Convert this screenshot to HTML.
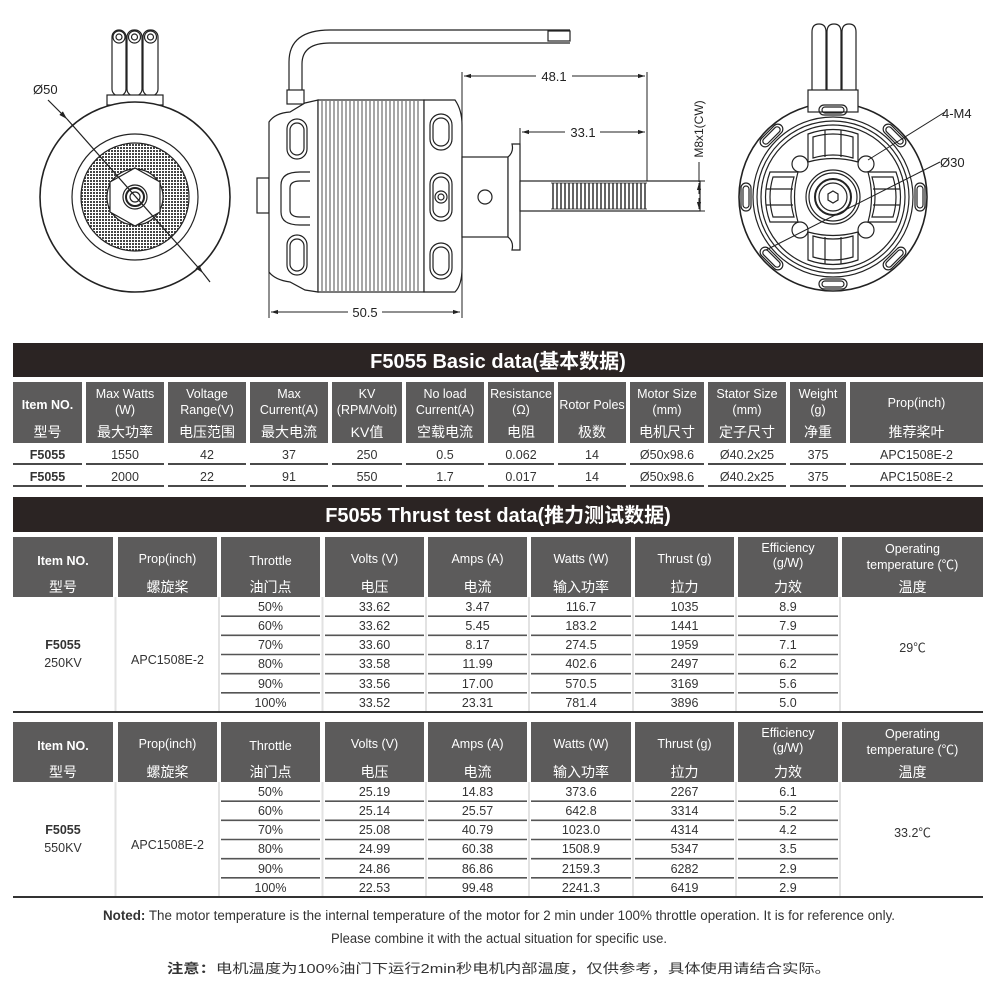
<!DOCTYPE html>
<html><head><meta charset="utf-8"><style>
html,body{margin:0;padding:0;background:#fff}
svg{display:block}
.n{font-family:"Liberation Sans Narrow","Liberation Sans","Noto Sans CJK SC",sans-serif}
.c{font-family:"Liberation Sans","Noto Sans CJK SC",sans-serif}
</style></head><body>
<svg width="1000" height="1000" viewBox="0 0 1000 1000" xmlns="http://www.w3.org/2000/svg">
<defs>
<pattern id="mesh" width="3" height="3" patternUnits="userSpaceOnUse"><rect width="3" height="3" fill="#fff"/><rect width="2" height="2" fill="#444"/></pattern>
<marker id="ar" viewBox="0 0 10 10" refX="10" refY="5" markerWidth="7" markerHeight="7" orient="auto-start-reverse"><path d="M0,2 L10,5 L0,8 z" fill="#222"/></marker>
</defs>
<rect width="1000" height="1000" fill="#fff"/>

<!-- LEFT VIEW -->
<g fill="none" stroke="#222" stroke-width="1.2">
 <rect x="112" y="30" width="14" height="66" rx="7"/><rect x="127" y="30" width="15" height="66" rx="7"/><rect x="143" y="30" width="15" height="66" rx="7"/>
 <circle cx="119" cy="37" r="6"/><circle cx="134.5" cy="37" r="6"/><circle cx="150.5" cy="37" r="6"/>
 <circle cx="119" cy="37" r="3"/><circle cx="134.5" cy="37" r="3"/><circle cx="150.5" cy="37" r="3"/>
 <rect x="107" y="95" width="56" height="10" fill="#fff"/>
 <circle cx="135" cy="197" r="95" stroke-width="1.6" fill="#fff"/>
 <circle cx="135" cy="197" r="63"/>
 <circle cx="135" cy="197" r="54" fill="url(#mesh)" stroke="none"/>
 <circle cx="135" cy="197" r="54"/>
 <circle cx="135" cy="197" r="28" fill="#fff"/>
 <polygon points="135,168 160,182 160,212 135,226 110,212 110,182" fill="#fff"/>
 <circle cx="135" cy="197" r="12"/><circle cx="135" cy="197" r="9" stroke-width="2"/><circle cx="135" cy="197" r="5"/>
 <line x1="48" y1="100" x2="67" y2="119" marker-end="url(#ar)"/>
 <line x1="67" y1="119" x2="203" y2="273" marker-end="url(#ar)"/>
 <line x1="203" y1="273" x2="210" y2="282"/>
</g>
<text x="33" y="94" class="n" font-size="13" fill="#222">Ø50</text>

<!-- MIDDLE VIEW -->
<g fill="none" stroke="#222" stroke-width="1.2">
 <path d="M289,101 L289,62 Q289,30 330,30 L570,30 M302,101 L302,64 Q302,43 330,43 L570,43"/>
 <rect x="548" y="31" width="22" height="10" fill="#fff"/>
 <rect x="287" y="90" width="17" height="14" fill="#fff"/>
 <rect x="257" y="178" width="12" height="35"/>
 <path d="M269,122 Q275,113 290,112 L305,103 L318,100 L318,292 L305,290 L290,282 Q275,280 269,272 Z" fill="#fff"/>
 <rect x="318" y="100" width="106" height="192" fill="#fff"/>
 <path d="M424,100 L455,100 Q462,110 462,125 L462,268 Q462,285 455,292 L424,292 Z" fill="#fff"/>
 <g stroke-width="0.8">
  <path d="M322,101V291M326,101V291M330,101V291M334,101V291M338,101V291M342,101V291M346,101V291M350,101V291M354,101V291M358,101V291M362,101V291M366,101V291M370,101V291M374,101V291M378,101V291M382,101V291M386,101V291M390,101V291M394,101V291M398,101V291M402,101V291M406,101V291M410,101V291M414,101V291M418,101V291"/>
 </g>
 <rect x="287" y="119" width="20" height="40" rx="10"/><rect x="290" y="123" width="14" height="32" rx="7"/>
 <rect x="287" y="235" width="20" height="40" rx="10"/><rect x="290" y="239" width="14" height="32" rx="7"/>
 <path d="M310,172 L300,172 Q281,172 281,185 L281,212 Q281,225 300,225 L310,225 M310,181 L300,181 Q290,181 290,188 L290,210 Q290,217 300,217 L310,217"/>
 <rect x="430" y="114" width="22" height="36" rx="11"/><rect x="433" y="118" width="16" height="28" rx="8"/>
 <rect x="430" y="173" width="22" height="48" rx="11"/><rect x="433" y="177" width="16" height="40" rx="8"/>
 <circle cx="441" cy="197" r="6"/><circle cx="441" cy="197" r="3"/>
 <rect x="430" y="243" width="22" height="36" rx="11"/><rect x="433" y="247" width="16" height="28" rx="8"/>
 <rect x="462" y="157" width="46" height="80" fill="#fff"/>
 <circle cx="485" cy="197" r="7"/>
 <path d="M508,157 Q514,152 512,144 L520,144 L520,250 L512,250 Q514,242 508,237 Z" fill="#fff"/>
 <rect x="520" y="181" width="180" height="30" fill="#fff"/>
 <path d="M551,183 L647,183 M551,209 L647,209" stroke-width="0.8"/>
 <path d="M553,183V209M557,183V209M561,183V209M565,183V209M569,183V209M573,183V209M577,183V209M581,183V209M585,183V209M589,183V209M593,183V209M597,183V209M601,183V209M605,183V209M609,183V209M613,183V209M617,183V209M621,183V209M625,183V209M629,183V209M633,183V209M637,183V209M641,183V209M645,183V209" stroke-width="1.4"/>
 <g stroke-width="1">
  <line x1="462" y1="72" x2="462" y2="157"/><line x1="647" y1="72" x2="647" y2="181"/><line x1="520" y1="128" x2="520" y2="144"/>
  <line x1="464" y1="76" x2="536" y2="76" marker-start="url(#ar)"/><line x1="572" y1="76" x2="645" y2="76" marker-end="url(#ar)"/>
  <line x1="522" y1="132" x2="565" y2="132" marker-start="url(#ar)"/><line x1="600" y1="132" x2="645" y2="132" marker-end="url(#ar)"/>
  <line x1="700" y1="181" x2="705" y2="181"/><line x1="700" y1="211" x2="705" y2="211"/>
  <line x1="699" y1="162" x2="699" y2="182" /><line x1="699" y1="183" x2="699" y2="194" marker-start="url(#ar)"/><line x1="699" y1="198" x2="699" y2="209" marker-end="url(#ar)"/>
  <line x1="269" y1="272" x2="269" y2="318"/><line x1="462" y1="268" x2="462" y2="318"/>
  <line x1="271" y1="312" x2="348" y2="312" marker-start="url(#ar)"/><line x1="382" y1="312" x2="460" y2="312" marker-end="url(#ar)"/>
 </g>
</g>
<text x="554" y="81" class="n" font-size="13" fill="#222" text-anchor="middle">48.1</text>
<text x="583" y="137" class="n" font-size="13" fill="#222" text-anchor="middle">33.1</text>
<text x="365" y="317" class="n" font-size="13" fill="#222" text-anchor="middle">50.5</text>
<text transform="translate(703,129) rotate(-90)" class="n" font-size="12" fill="#222" text-anchor="middle">M8x1(CW)</text>

<!-- RIGHT VIEW -->
<g fill="none" stroke="#222" stroke-width="1.2">
 <path d="M812,90 L812,32 Q812,24 819,24 Q826,24 826,32 L826,90 M827,90 L827,32 Q827,24 834,24 Q841,24 841,32 L841,90 M842,90 L842,32 Q842,24 849,24 Q856,24 856,32 L856,90"/>
 <circle cx="833" cy="197" r="94" stroke-width="1.6" fill="#fff"/>
 <rect x="808" y="90" width="50" height="22" fill="#fff"/>
 <circle cx="833" cy="197" r="80"/><circle cx="833" cy="197" r="76"/><circle cx="833" cy="197" r="72"/>
 <g transform="translate(833,197)">
  <g id="sl"><rect x="-14" y="-92" width="28" height="10" rx="5"/><rect x="-11" y="-90" width="22" height="6" rx="3"/></g>
  <use href="#sl" transform="rotate(45)"/><use href="#sl" transform="rotate(90)"/><use href="#sl" transform="rotate(135)"/><use href="#sl" transform="rotate(180)"/><use href="#sl" transform="rotate(225)"/><use href="#sl" transform="rotate(270)"/><use href="#sl" transform="rotate(315)"/>
  <g id="wn"><path d="M-25,-63 Q0,-72 25,-63 L25,-35 Q0,-42 -25,-35 Z"/><path d="M-20,-60 Q0,-66 20,-60 L20,-39 Q0,-45 -20,-39 Z"/><line x1="-8" y1="-67" x2="-8" y2="-40"/><line x1="8" y1="-67" x2="8" y2="-40"/></g>
  <use href="#wn" transform="rotate(90)"/><use href="#wn" transform="rotate(180)"/><use href="#wn" transform="rotate(270)"/>
  <circle cx="-33" cy="-33" r="8"/><circle cx="33" cy="-33" r="8"/><circle cx="-33" cy="33" r="8"/><circle cx="33" cy="33" r="8"/>
  <circle r="27"/><circle r="24"/><circle r="18" stroke-width="2"/><circle r="14"/>
  <polygon points="0,-6 5,-3 5,3 0,6 -5,3 -5,-3"/>
 </g>
 <line x1="945" y1="112" x2="868" y2="160" stroke-width="1"/>
 <line x1="940" y1="162" x2="766" y2="250" stroke-width="1"/>
</g>
<text x="942" y="118" class="n" font-size="13" fill="#222">4-M4</text>
<text x="940" y="167" class="n" font-size="13" fill="#222">Ø30</text>

<!-- BASIC TABLE -->
<rect x="13" y="343" width="970" height="34" fill="#2b2423"/>
<text x="498" y="368" class="c" font-size="20" font-weight="bold" fill="#fff" text-anchor="middle">F5055 Basic data(基本数据)</text>
<g fill="#5c5b5b">
<rect x="13" y="382" width="69" height="61"/><rect x="86" y="382" width="78" height="61"/><rect x="168" y="382" width="78" height="61"/><rect x="250" y="382" width="78" height="61"/><rect x="332" y="382" width="70" height="61"/><rect x="406" y="382" width="78" height="61"/><rect x="488" y="382" width="66" height="61"/><rect x="558" y="382" width="68" height="61"/><rect x="630" y="382" width="74" height="61"/><rect x="708" y="382" width="78" height="61"/><rect x="790" y="382" width="56" height="61"/><rect x="850" y="382" width="133" height="61"/>
</g>
<g fill="#4a4a4a">
<rect x="13" y="463" width="69" height="2"/><rect x="86" y="463" width="78" height="2"/><rect x="168" y="463" width="78" height="2"/><rect x="250" y="463" width="78" height="2"/><rect x="332" y="463" width="70" height="2"/><rect x="406" y="463" width="78" height="2"/><rect x="488" y="463" width="66" height="2"/><rect x="558" y="463" width="68" height="2"/><rect x="630" y="463" width="74" height="2"/><rect x="708" y="463" width="78" height="2"/><rect x="790" y="463" width="56" height="2"/><rect x="850" y="463" width="133" height="2"/>
<rect x="13" y="485" width="69" height="2"/><rect x="86" y="485" width="78" height="2"/><rect x="168" y="485" width="78" height="2"/><rect x="250" y="485" width="78" height="2"/><rect x="332" y="485" width="70" height="2"/><rect x="406" y="485" width="78" height="2"/><rect x="488" y="485" width="66" height="2"/><rect x="558" y="485" width="68" height="2"/><rect x="630" y="485" width="74" height="2"/><rect x="708" y="485" width="78" height="2"/><rect x="790" y="485" width="56" height="2"/><rect x="850" y="485" width="133" height="2"/>
</g>
<g class="n" font-size="12.5" fill="#fff" text-anchor="middle">
<text x="47.5" y="409" font-weight="bold">Item NO.</text><text x="47.5" y="437" font-size="14" class="c">型号</text>
<text x="125" y="398">Max Watts</text><text x="125" y="414">(W)</text><text x="125" y="437" font-size="14" class="c">最大功率</text>
<text x="207" y="398">Voltage</text><text x="207" y="414">Range(V)</text><text x="207" y="437" font-size="14" class="c">电压范围</text>
<text x="289" y="398">Max</text><text x="289" y="414">Current(A)</text><text x="289" y="437" font-size="14" class="c">最大电流</text>
<text x="367" y="398">KV</text><text x="367" y="414">(RPM/Volt)</text><text x="367" y="437" font-size="14" class="c">KV值</text>
<text x="445" y="398">No load</text><text x="445" y="414">Current(A)</text><text x="445" y="437" font-size="14" class="c">空载电流</text>
<text x="521" y="398">Resistance</text><text x="521" y="414">(Ω)</text><text x="521" y="437" font-size="14" class="c">电阻</text>
<text x="592" y="409">Rotor Poles</text><text x="592" y="437" font-size="14" class="c">极数</text>
<text x="667" y="398">Motor Size</text><text x="667" y="414">(mm)</text><text x="667" y="437" font-size="14" class="c">电机尺寸</text>
<text x="747" y="398">Stator Size</text><text x="747" y="414">(mm)</text><text x="747" y="437" font-size="14" class="c">定子尺寸</text>
<text x="818" y="398">Weight</text><text x="818" y="414">(g)</text><text x="818" y="437" font-size="14" class="c">净重</text>
<text x="916.5" y="407">Prop(inch)</text><text x="916.5" y="437" font-size="14" class="c">推荐桨叶</text>
</g>
<g class="n" font-size="12.5" fill="#333" text-anchor="middle">
<text x="47.5" y="459" font-weight="bold">F5055</text><text x="125" y="459">1550</text><text x="207" y="459">42</text><text x="289" y="459">37</text><text x="367" y="459">250</text><text x="445" y="459">0.5</text><text x="521" y="459">0.062</text><text x="592" y="459">14</text><text x="667" y="459">Ø50x98.6</text><text x="747" y="459">Ø40.2x25</text><text x="818" y="459">375</text><text x="916.5" y="459">APC1508E-2</text>
<text x="47.5" y="481" font-weight="bold">F5055</text><text x="125" y="481">2000</text><text x="207" y="481">22</text><text x="289" y="481">91</text><text x="367" y="481">550</text><text x="445" y="481">1.7</text><text x="521" y="481">0.017</text><text x="592" y="481">14</text><text x="667" y="481">Ø50x98.6</text><text x="747" y="481">Ø40.2x25</text><text x="818" y="481">375</text><text x="916.5" y="481">APC1508E-2</text>
</g>

<!-- THRUST BANNER -->
<rect x="13" y="497" width="970" height="35" fill="#2b2423"/>
<text x="498" y="522" class="c" font-size="20" font-weight="bold" fill="#fff" text-anchor="middle">F5055 Thrust test data(推力测试数据)</text>

<!-- THRUST TABLE 1 -->
<g id="th">
<g fill="#5c5b5b">
<rect x="13" y="537" width="100" height="60"/><rect x="118" y="537" width="99" height="60"/><rect x="221" y="537" width="99" height="60"/><rect x="325" y="537" width="99" height="60"/><rect x="428" y="537" width="99" height="60"/><rect x="531" y="537" width="100" height="60"/><rect x="635" y="537" width="99" height="60"/><rect x="738" y="537" width="100" height="60"/><rect x="842" y="537" width="141" height="60"/>
</g>
<g stroke="#e2e2e2" stroke-width="2">
<line x1="115.5" y1="597" x2="115.5" y2="711"/><line x1="219" y1="597" x2="219" y2="711"/><line x1="322.5" y1="597" x2="322.5" y2="711"/><line x1="426" y1="597" x2="426" y2="711"/><line x1="529" y1="597" x2="529" y2="711"/><line x1="633" y1="597" x2="633" y2="711"/><line x1="736" y1="597" x2="736" y2="711"/><line x1="840" y1="597" x2="840" y2="711"/>
</g>
<g stroke="#555" stroke-width="1.6">
<path d="M221,616.2H320M325,616.2H424M428,616.2H527M531,616.2H631M635,616.2H734M738,616.2H838"/>
<path d="M221,635.3H320M325,635.3H424M428,635.3H527M531,635.3H631M635,635.3H734M738,635.3H838"/>
<path d="M221,654.5H320M325,654.5H424M428,654.5H527M531,654.5H631M635,654.5H734M738,654.5H838"/>
<path d="M221,673.7H320M325,673.7H424M428,673.7H527M531,673.7H631M635,673.7H734M738,673.7H838"/>
<path d="M221,692.8H320M325,692.8H424M428,692.8H527M531,692.8H631M635,692.8H734M738,692.8H838"/>
</g>
<rect x="13" y="711" width="970" height="2" fill="#333"/>
<g class="n" font-size="12.5" fill="#fff" text-anchor="middle">
<text x="63" y="565" font-weight="bold">Item NO.</text><text x="63" y="592" font-size="14" class="c">型号</text>
<text x="167.5" y="563">Prop(inch)</text><text x="167.5" y="592" font-size="14" class="c">螺旋桨</text>
<text x="270.5" y="565">Throttle</text><text x="270.5" y="592" font-size="14" class="c">油门点</text>
<text x="374.5" y="563">Volts (V)</text><text x="374.5" y="592" font-size="14" class="c">电压</text>
<text x="477.5" y="563">Amps (A)</text><text x="477.5" y="592" font-size="14" class="c">电流</text>
<text x="581" y="563">Watts (W)</text><text x="581" y="592" font-size="14" class="c">输入功率</text>
<text x="684.5" y="563">Thrust (g)</text><text x="684.5" y="592" font-size="14" class="c">拉力</text>
<text x="788" y="552">Efficiency</text><text x="788" y="567">(g/W)</text><text x="788" y="592" font-size="14" class="c">力效</text>
<text x="912.5" y="553">Operating</text><text x="912.5" y="569">temperature (℃)</text><text x="912.5" y="592" font-size="14" class="c">温度</text>
</g>
</g>
<g class="n" font-size="12.5" fill="#333" text-anchor="middle">
<text x="63" y="649" font-weight="bold">F5055</text><text x="63" y="667">250KV</text>
<text x="167.5" y="664">APC1508E-2</text>
<text x="912.5" y="652">29℃</text>
<text x="270.5" y="611">50%</text><text x="270.5" y="630">60%</text><text x="270.5" y="649">70%</text><text x="270.5" y="668">80%</text><text x="270.5" y="688">90%</text><text x="270.5" y="707">100%</text>
<text x="374.5" y="611">33.62</text><text x="374.5" y="630">33.62</text><text x="374.5" y="649">33.60</text><text x="374.5" y="668">33.58</text><text x="374.5" y="688">33.56</text><text x="374.5" y="707">33.52</text>
<text x="477.5" y="611">3.47</text><text x="477.5" y="630">5.45</text><text x="477.5" y="649">8.17</text><text x="477.5" y="668">11.99</text><text x="477.5" y="688">17.00</text><text x="477.5" y="707">23.31</text>
<text x="581" y="611">116.7</text><text x="581" y="630">183.2</text><text x="581" y="649">274.5</text><text x="581" y="668">402.6</text><text x="581" y="688">570.5</text><text x="581" y="707">781.4</text>
<text x="684.5" y="611">1035</text><text x="684.5" y="630">1441</text><text x="684.5" y="649">1959</text><text x="684.5" y="668">2497</text><text x="684.5" y="688">3169</text><text x="684.5" y="707">3896</text>
<text x="788" y="611">8.9</text><text x="788" y="630">7.9</text><text x="788" y="649">7.1</text><text x="788" y="668">6.2</text><text x="788" y="688">5.6</text><text x="788" y="707">5.0</text>
</g>

<!-- THRUST TABLE 2 -->
<use href="#th" transform="translate(0,185)"/>
<g class="n" font-size="12.5" fill="#333" text-anchor="middle">
<text x="63" y="834" font-weight="bold">F5055</text><text x="63" y="852">550KV</text>
<text x="167.5" y="849">APC1508E-2</text>
<text x="912.5" y="837">33.2℃</text>
<text x="270.5" y="796">50%</text><text x="270.5" y="815">60%</text><text x="270.5" y="834">70%</text><text x="270.5" y="853">80%</text><text x="270.5" y="873">90%</text><text x="270.5" y="892">100%</text>
<text x="374.5" y="796">25.19</text><text x="374.5" y="815">25.14</text><text x="374.5" y="834">25.08</text><text x="374.5" y="853">24.99</text><text x="374.5" y="873">24.86</text><text x="374.5" y="892">22.53</text>
<text x="477.5" y="796">14.83</text><text x="477.5" y="815">25.57</text><text x="477.5" y="834">40.79</text><text x="477.5" y="853">60.38</text><text x="477.5" y="873">86.86</text><text x="477.5" y="892">99.48</text>
<text x="581" y="796">373.6</text><text x="581" y="815">642.8</text><text x="581" y="834">1023.0</text><text x="581" y="853">1508.9</text><text x="581" y="873">2159.3</text><text x="581" y="892">2241.3</text>
<text x="684.5" y="796">2267</text><text x="684.5" y="815">3314</text><text x="684.5" y="834">4314</text><text x="684.5" y="853">5347</text><text x="684.5" y="873">6282</text><text x="684.5" y="892">6419</text>
<text x="788" y="796">6.1</text><text x="788" y="815">5.2</text><text x="788" y="834">4.2</text><text x="788" y="853">3.5</text><text x="788" y="873">2.9</text><text x="788" y="892">2.9</text>
</g>

<!-- NOTES -->
<text x="103" y="920" class="n" font-size="13.5" fill="#333" textLength="792" lengthAdjust="spacingAndGlyphs"><tspan font-weight="bold">Noted:</tspan> The motor temperature is the internal temperature of the motor for 2 min  under 100% throttle operation. It is for reference only.</text>
<text x="499" y="943" class="n" font-size="13.5" fill="#333" text-anchor="middle" textLength="336" lengthAdjust="spacingAndGlyphs">Please combine it with the actual situation for specific use.</text>
<text x="499" y="973" class="c" font-size="13" fill="#333" text-anchor="middle" textLength="664" lengthAdjust="spacingAndGlyphs"><tspan font-weight="bold">注意：</tspan>电机温度为100%油门下运行2min秒电机内部温度，仅供参考，具体使用请结合实际。</text>
</svg>
</body></html>
